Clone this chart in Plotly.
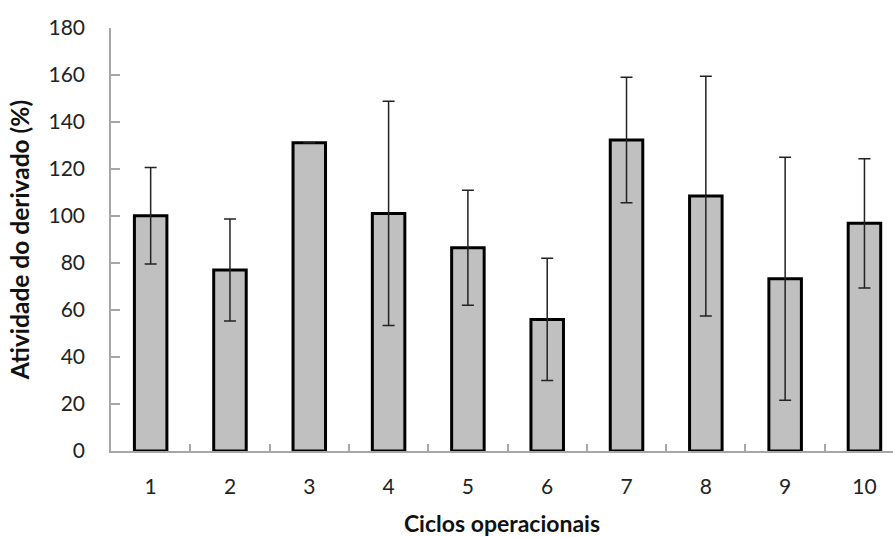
import plotly.graph_objects as go

ciclos = ["1", "2", "3", "4", "5", "6", "7", "8", "9", "10"]
atividade = [100.1, 77.0, 131.2, 101.1, 86.5, 56.0, 132.3, 108.5, 73.3, 96.9]
erro = [20.5, 21.7, 0, 47.7, 24.5, 26.0, 26.7, 51.0, 51.7, 27.5]
y_ticks = [0, 20, 40, 60, 80, 100, 120, 140, 160, 180]

fig = go.Figure()
fig.add_trace(go.Bar(
    x=ciclos, y=atividade,
    width=0.41,
    marker=dict(color="#c0c0c0", line=dict(color="#000000", width=3)),
    error_y=dict(type="data", array=erro, visible=True, color="#222222", thickness=1.5, width=6),
))

font_family = "Lato, 'Open Sans', sans-serif"
fig.update_layout(
    width=893, height=537,
    margin=dict(l=111, r=0, t=28, b=86),
    paper_bgcolor="white", plot_bgcolor="white",
    showlegend=False,
    font=dict(family=font_family, color="#222222"),
    xaxis=dict(
        type="category",
        range=[-0.5, 9.36],
        showline=True, linecolor="#a6a6a6", linewidth=1.5,
        ticks="inside", ticklen=7, tickcolor="#a6a6a6", tickwidth=1.5,
        tickson="boundaries",
        tickfont=dict(size=21, family=font_family, color="#222222"),
        ticklabelstandoff=16,
        title=dict(text="<b>Ciclos operacionais</b>", font=dict(size=23, family=font_family, color="#111111"), standoff=20),
        showgrid=False, zeroline=False, fixedrange=True,
    ),
    yaxis=dict(
        range=[0, 180],
        tickvals=y_ticks,
        showline=True, linecolor="#a6a6a6", linewidth=1.5,
        ticks="inside", ticklen=9, tickcolor="#a6a6a6", tickwidth=1.5,
        tickfont=dict(size=21, family=font_family, color="#222222"),
        ticklabelstandoff=20,
        title=dict(text="<b>Atividade do derivado (%)</b>", font=dict(size=24.5, family=font_family, color="#111111"), standoff=12),
        showgrid=False, zeroline=False, fixedrange=True,
    ),
)

fig.write_html("out.html")
